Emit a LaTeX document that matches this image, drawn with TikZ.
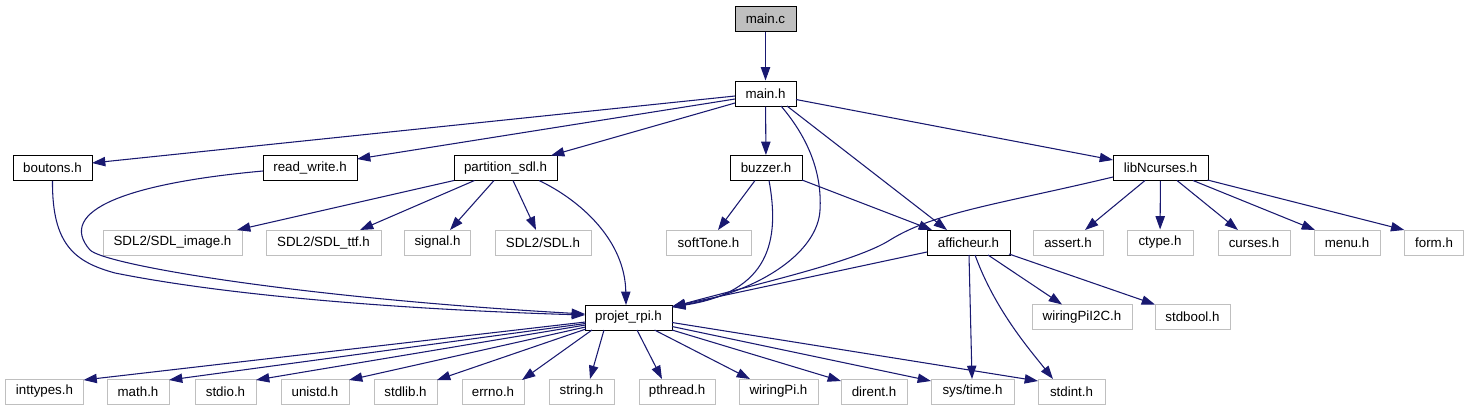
\documentclass[tikz,border=0pt]{standalone}
\usepackage{fontspec}
\setmainfont{Liberation Sans}
\usetikzlibrary{arrows.meta,calc}
\definecolor{edgeblue}{HTML}{191970}
\definecolor{leafgray}{HTML}{BFBFBF}
\begin{document}
\begin{tikzpicture}[x=0.75pt,y=-0.75pt,
  nodebase/.style={rectangle, inner sep=0pt, minimum height=18.75pt,
    font=\fontsize{10}{12}\selectfont, line width=0.75pt, fill=white},
  inc/.style={nodebase, draw=black},
  leaf/.style={nodebase, draw=leafgray},
  root/.style={nodebase, draw=black, fill=leafgray},
  bw/.style={minimum width=#1*0.75pt},
  edge/.style={draw=edgeblue, line width=0.8pt, -{Triangle[length=10pt,width=7pt]}}]
\useasboundingbox (0,0) rectangle (1469,411);

% row 0/1
\node[root,bw=61] (mainc) at (765.5,18.5) {main.c};
\node[inc,bw=61] (mainh) at (765.5,93.5) {main.h};
% row 2
\node[inc,bw=79] (boutons) at (52.5,168) {boutons.h};
\node[inc,bw=94] (readwrite) at (310,168) {read\_write.h};
\node[inc,bw=103] (partition) at (505.5,168) {partition\_sdl.h};
\node[inc,bw=72] (buzzer) at (766,168) {buzzer.h};
\node[inc,bw=95] (libN) at (1160.5,168) {libNcurses.h};
% row 3
\node[leaf,bw=139] (sdlimage) at (172.5,242.5) {SDL2/SDL\_image.h};
\node[leaf,bw=115] (sdlttf) at (323.5,242.5) {SDL2/SDL\_ttf.h};
\node[leaf,bw=66] (signal) at (437.5,242.5) {signal.h};
\node[leaf,bw=96] (sdl) at (543,242.5) {SDL2/SDL.h};
\node[leaf,bw=85] (softtone) at (708.5,242.5) {softTone.h};
\node[inc,bw=83] (afficheur) at (968.5,242.5) {afficheur.h};
\node[leaf,bw=70] (assert) at (1068,242.5) {assert.h};
\node[leaf,bw=66] (ctype) at (1160,242.5) {ctype.h};
\node[leaf,bw=72] (curses) at (1254,242.5) {curses.h};
\node[leaf,bw=66] (menu) at (1347,242.5) {menu.h};
\node[leaf,bw=59] (form) at (1434,242.5) {form.h};
% row 4
\node[inc,bw=87] (projet) at (628.5,317.5) {projet\_rpi.h};
\node[leaf,bw=100] (wpi2c) at (1082,317) {wiringPiI2C.h};
\node[leaf,bw=75] (stdbool) at (1192.5,317) {stdbool.h};
% row 5
\node[leaf,bw=78] (inttypes) at (44.5,391.5) {inttypes.h};
\node[leaf,bw=62] (math) at (138,391.5) {math.h};
\node[leaf,bw=61] (stdio) at (225.5,391.5) {stdio.h};
\node[leaf,bw=68] (unistd) at (315,391.5) {unistd.h};
\node[leaf,bw=63] (stdlib) at (405.5,391.5) {stdlib.h};
\node[leaf,bw=62] (errno) at (493,391.5) {errno.h};
\node[leaf,bw=65] (string) at (581.5,391.5) {string.h};
\node[leaf,bw=76] (pthread) at (677,391.5) {pthread.h};
\node[leaf,bw=79] (wiringpi) at (778.5,391.5) {wiringPi.h};
\node[leaf,bw=66] (dirent) at (874,391.5) {dirent.h};
\node[leaf,bw=83] (systime) at (972.5,391.5) {sys/time.h};
\node[leaf,bw=67] (stdint) at (1071.5,391.5) {stdint.h};

% edges
\draw[edge] (mainc) -- (mainh);
\draw[edge] ($(mainh)+(-30.5,2.5)$) -- ($(boutons)+(39.5,-5)$);
\draw[edge] ($(mainh)+(-30.5,5.5)$) -- ($(readwrite)+(47,-9)$);
\draw[edge] ($(mainh)+(-30.5,9.5)$) -- ($(partition)+(45.5,-12.5)$);
\draw[edge] (mainh) -- (buzzer);
\draw[edge] ($(mainh)+(15.5,12.5)$) .. controls (810,140) and (822,175) .. (820,210)
  .. controls (818,250) and (765,290) .. ($(projet)+(43.5,-10.5)$);
\draw[edge] ($(mainh)+(21.5,12.5)$) -- ($(afficheur)+(-21.5,-12.5)$);
\draw[edge] ($(mainh)+(30.5,6)$) -- ($(libN)+(-47.5,-8)$);

\draw[edge] (boutons.south) .. controls (52,245) and (75,262) .. (115,273)
  .. controls (250,300) and (450,311) .. ($(projet)+(-43.5,-2.5)$);
\draw[edge] ($(readwrite)+(-47,3)$) .. controls (130,183) and (55,210) .. (90,250)
  .. controls (105,265) and (300,298) .. ($(projet)+(-43.5,-3.5)$);

\draw[edge] ($(partition)+(-51.5,12.5)$) -- ($(sdlimage)+(64.5,-12.5)$);
\draw[edge] ($(partition)+(-31,12.5)$) -- ($(sdlttf)+(36.5,-12.5)$);
\draw[edge] ($(partition)+(-11.5,12.5)$) -- ($(signal)+(12.5,-12.5)$);
\draw[edge] ($(partition)+(7.5,12.5)$) -- ($(sdl)+(-7,-12.5)$);
\draw[edge] ($(partition)+(33.5,12.5)$) .. controls (580,200) and (625,240) .. ($(projet)+(-2.5,-12.5)$);

\draw[edge] ($(buzzer)+(-11,12.5)$) -- ($(softtone)+(9.5,-12.5)$);
\draw[edge] ($(buzzer)+(3,12.5)$) .. controls (780,240) and (770,292) .. ($(projet)+(43.5,-10.5)$);
\draw[edge] ($(buzzer)+(36,12)$) -- ($(afficheur)+(-36.5,-12.5)$);

\draw[edge] ($(libN)+(-47.5,9)$) .. controls (1000,204) and (935,212) .. (890,240)
  .. controls (855,262) and (760,283) .. ($(projet)+(43.5,-10.5)$);
\draw[edge] ($(libN)+(-15.5,12.5)$) -- ($(assert)+(17,-12.5)$);
\draw[edge] (libN) -- (ctype);
\draw[edge] ($(libN)+(16.5,12.5)$) -- ($(curses)+(-16,-12.5)$);
\draw[edge] ($(libN)+(32.5,12.5)$) -- ($(menu)+(-32,-12.5)$);
\draw[edge] ($(libN)+(47,12)$) -- ($(form)+(-29.7,-12.5)$);

\draw[edge] ($(afficheur)+(-41.5,9.5)$) -- ($(projet)+(43.5,-11)$);
\draw[edge] ($(afficheur)+(19.5,12.5)$) -- ($(wpi2c)+(-20,-12.5)$);
\draw[edge] ($(afficheur)+(40.5,11.5)$) -- ($(stdbool)+(-37.5,-12.5)$);
\draw[edge] ($(afficheur)+(0.5,12.5)$) -- ($(systime)+(-0.5,-12.5)$);
\draw[edge] ($(afficheur)+(6.5,12.5)$) .. controls (995,310) and (1030,350) .. ($(stdint)+(-18.5,-12.5)$);

\draw[edge] ($(projet)+(-43,4.5)$) -- ($(inttypes)+(39,-11.5)$);
\draw[edge] ($(projet)+(-43,6)$) -- ($(math)+(31,-11.5)$);
\draw[edge] ($(projet)+(-43,7.5)$) -- ($(stdio)+(30.5,-11.5)$);
\draw[edge] ($(projet)+(-43,9.5)$) -- ($(unistd)+(34,-11.5)$);
\draw[edge] ($(projet)+(-42.5,11.5)$) -- ($(stdlib)+(31.5,-11.5)$);
\draw[edge] ($(projet)+(-36.5,12.5)$) -- ($(errno)+(29,-11.5)$);
\draw[edge] ($(projet)+(-24.5,12.5)$) -- ($(string)+(8.5,-12.5)$);
\draw[edge] ($(projet)+(8.5,12.5)$) -- ($(pthread)+(-15,-12.5)$);
\draw[edge] ($(projet)+(26,12.5)$) -- ($(wiringpi)+(-28.5,-12.5)$);
\draw[edge] ($(projet)+(43.5,12.5)$) -- ($(dirent)+(-33,-10.5)$);
\draw[edge] ($(projet)+(43.5,9)$) -- ($(systime)+(-41.5,-10.5)$);
\draw[edge] ($(projet)+(43.5,5)$) -- ($(stdint)+(-33.5,-10.5)$);
\end{tikzpicture}
\end{document}
